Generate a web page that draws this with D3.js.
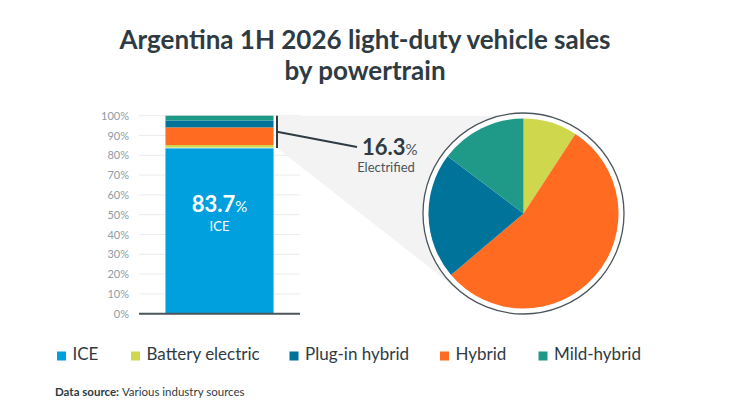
<!DOCTYPE html>
<html>
<head>
<meta charset="utf-8">
<script src="https://cdn.jsdelivr.net/npm/d3@7"></script>
<style>
    html, body { margin: 0; padding: 0; background: #fff; }
    svg { display: block; font-family: Lato, "Noto Sans", sans-serif; }
</style>
</head>
<body>
<div id="chart"></div>
<script>
(function () {
    "use strict";

    // chart values
    const categories = ["ICE", "Battery electric", "Plug-in hybrid", "Hybrid", "Mild-hybrid"];
    const shares = [83.7, 1.5, 3.5, 8.9, 2.4];
    const colors = ["#00a0df", "#cfd74c", "#00739a", "#fe6b21", "#1f9a88"];
    // stacking order in the bar (bottom to top) and slice order in the pie
    const barOrder = ["ICE", "Battery electric", "Hybrid", "Plug-in hybrid", "Mild-hybrid"];
    const pieOrder = ["Battery electric", "Hybrid", "Plug-in hybrid", "Mild-hybrid"];
    const yTicks = [0, 10, 20, 30, 40, 50, 60, 70, 80, 90, 100];
    const electrifiedTotal = 16.3;

    const width = 730;
    const height = 411;
    const dark = "#2f3b43";

    let share = (name) => shares[categories.indexOf(name)];
    let color = d3.scaleOrdinal().domain(categories).range(colors);

    let svg = d3.select("#chart").append("svg").attr("width", width).attr("height", height);

    // title
    let title = svg.append("text")
        .attr("text-anchor", "middle")
        .attr("fill", dark)
        .style("font-size", "26px")
        .style("font-weight", "700");
    title.append("tspan").attr("x", width / 2).attr("y", 49).text("Argentina 1H 2026 light-duty vehicle sales");
    title.append("tspan").attr("x", width / 2).attr("y", 80).text("by powertrain");

    // bar scales
    let y = d3.scaleLinear().domain([0, 100]).range([313.7, 115.7]);
    let x = d3.scaleBand().domain(["Argentina"]).range([139, 300]).paddingInner(0).paddingOuter(0.245);

    // grid + axis labels
    let grid = svg.append("g");
    grid.selectAll("line")
        .data(yTicks.slice(1))
        .enter()
        .append("line")
        .attr("x1", 139)
        .attr("x2", 300)
        .attr("y1", (d) => y(d))
        .attr("y2", (d) => y(d))
        .attr("stroke", "#ececec")
        .attr("stroke-width", 1);

    let yAxis = d3.axisLeft(y).tickValues(yTicks).tickFormat((d) => d + "%").tickSize(0).tickPadding(0);
    let axisG = svg.append("g").attr("transform", "translate(129,0)").call(yAxis);
    axisG.select(".domain").remove();
    axisG.selectAll("text")
        .attr("fill", "#8d9ca6")
        .style("font-size", "11px")
        .style("font-family", "Lato, 'Noto Sans', sans-serif");

    // stacked bar
    let stackRow = {};
    barOrder.forEach((k) => { stackRow[k] = share(k); });
    let stacked = d3.stack().keys(barOrder)([stackRow]);

    svg.append("g")
        .selectAll("rect")
        .data(stacked)
        .enter()
        .append("rect")
        .attr("x", x("Argentina"))
        .attr("width", x.bandwidth())
        .attr("y", (d) => y(d[0][1]))
        .attr("height", (d) => y(d[0][0]) - y(d[0][1]))
        .attr("fill", (d) => color(d.key));

    // thin white gap above ICE
    svg.append("line")
        .attr("x1", x("Argentina"))
        .attr("x2", x("Argentina") + x.bandwidth())
        .attr("y1", y(share("ICE")))
        .attr("y2", y(share("ICE")))
        .attr("stroke", "#fff")
        .attr("stroke-width", 0.8);

    // baseline
    svg.append("line")
        .attr("x1", 139).attr("x2", 300)
        .attr("y1", y(0)).attr("y2", y(0))
        .attr("stroke", "#4a555c").attr("stroke-width", 2);

    // ICE label
    let cxBar = x("Argentina") + x.bandwidth() / 2;
    let iceLabel = svg.append("text")
        .attr("x", cxBar)
        .attr("y", 212)
        .attr("text-anchor", "middle")
        .attr("fill", "#fff");
    iceLabel.append("tspan").style("font-size", "22px").style("font-weight", "700").text(d3.format(".1f")(share("ICE")));
    iceLabel.append("tspan").style("font-size", "15px").text("%");
    svg.append("text")
        .attr("x", cxBar)
        .attr("y", 231)
        .attr("text-anchor", "middle")
        .attr("fill", "#fff")
        .style("font-size", "13px")
        .text("ICE");

    // pie geometry
    const cx = 523.5;
    const cy = 213.5;
    const pieR = 95;
    const ringR = 100.5;

    // gray projection wedge from the bar's electrified part to the circle
    let bx = 277;
    let yTop = y(100);
    let yBot = y(100 - electrifiedTotal);
    let dx = cx - bx;
    let dy = cy - yBot;
    let dist = Math.sqrt(dx * dx + dy * dy);
    let ang = Math.atan2(dy, dx) + Math.asin(ringR / dist);
    let tLen = Math.sqrt(dist * dist - ringR * ringR);
    let tx = bx + tLen * Math.cos(ang);
    let ty = yBot + tLen * Math.sin(ang);
    svg.append("path")
        .attr("d", d3.line()([[bx, yTop], [cx, yTop], [cx, cy], [tx, ty], [bx, yBot]]) + "Z")
        .attr("fill", "#f3f3f3");

    // bracket + leader
    svg.append("line")
        .attr("x1", bx).attr("x2", bx)
        .attr("y1", yTop).attr("y2", yBot)
        .attr("stroke", dark).attr("stroke-width", 2);
    let yMid = (yTop + yBot) / 2;
    svg.append("line")
        .attr("x1", bx).attr("x2", 357)
        .attr("y1", yMid).attr("y2", 147)
        .attr("stroke", dark).attr("stroke-width", 2);

    let elLabel = svg.append("text")
        .attr("x", 362)
        .attr("y", 155)
        .attr("fill", dark);
    elLabel.append("tspan").style("font-size", "22px").style("font-weight", "700").text(d3.format(".1f")(electrifiedTotal));
    elLabel.append("tspan").style("font-size", "15px").attr("fill", "#4a555c").text("%");
    svg.append("text")
        .attr("x", 386)
        .attr("y", 172)
        .attr("text-anchor", "middle")
        .attr("fill", "#4a555c")
        .style("font-size", "13px")
        .text("Electrified");

    // circle + pie
    svg.append("circle")
        .attr("cx", cx).attr("cy", cy).attr("r", ringR)
        .attr("fill", "#fff")
        .attr("stroke", "#4a555c").attr("stroke-width", 1.3);

    let pie = d3.pie().sort(null).value((d) => share(d));
    let arc = d3.arc().innerRadius(0).outerRadius(pieR);
    svg.append("g")
        .attr("transform", `translate(${cx},${cy})`)
        .selectAll("path")
        .data(pie(pieOrder))
        .enter()
        .append("path")
        .attr("d", arc)
        .attr("fill", (d) => color(d.data));

    // legend
    const legendX = [57, 131, 289.5, 440, 538.5];
    let legend = svg.append("g")
        .selectAll("g")
        .data(categories)
        .enter()
        .append("g")
        .attr("transform", (d, i) => `translate(${legendX[i]},360)`);
    legend.append("rect")
        .attr("x", 0).attr("y", -8.5)
        .attr("width", 9).attr("height", 9)
        .attr("fill", (d) => color(d));
    legend.append("text")
        .attr("x", 15.5)
        .attr("y", 0)
        .attr("fill", dark)
        .style("font-size", "17px")
        .text((d) => d);

    // source
    let source = svg.append("text")
        .attr("x", 55)
        .attr("y", 396)
        .attr("fill", dark)
        .style("font-size", "11.5px");
    source.append("tspan").style("font-weight", "700").text("Data source: ");
    source.append("tspan").text("Various industry sources");
})();
</script>
</body>
</html>
